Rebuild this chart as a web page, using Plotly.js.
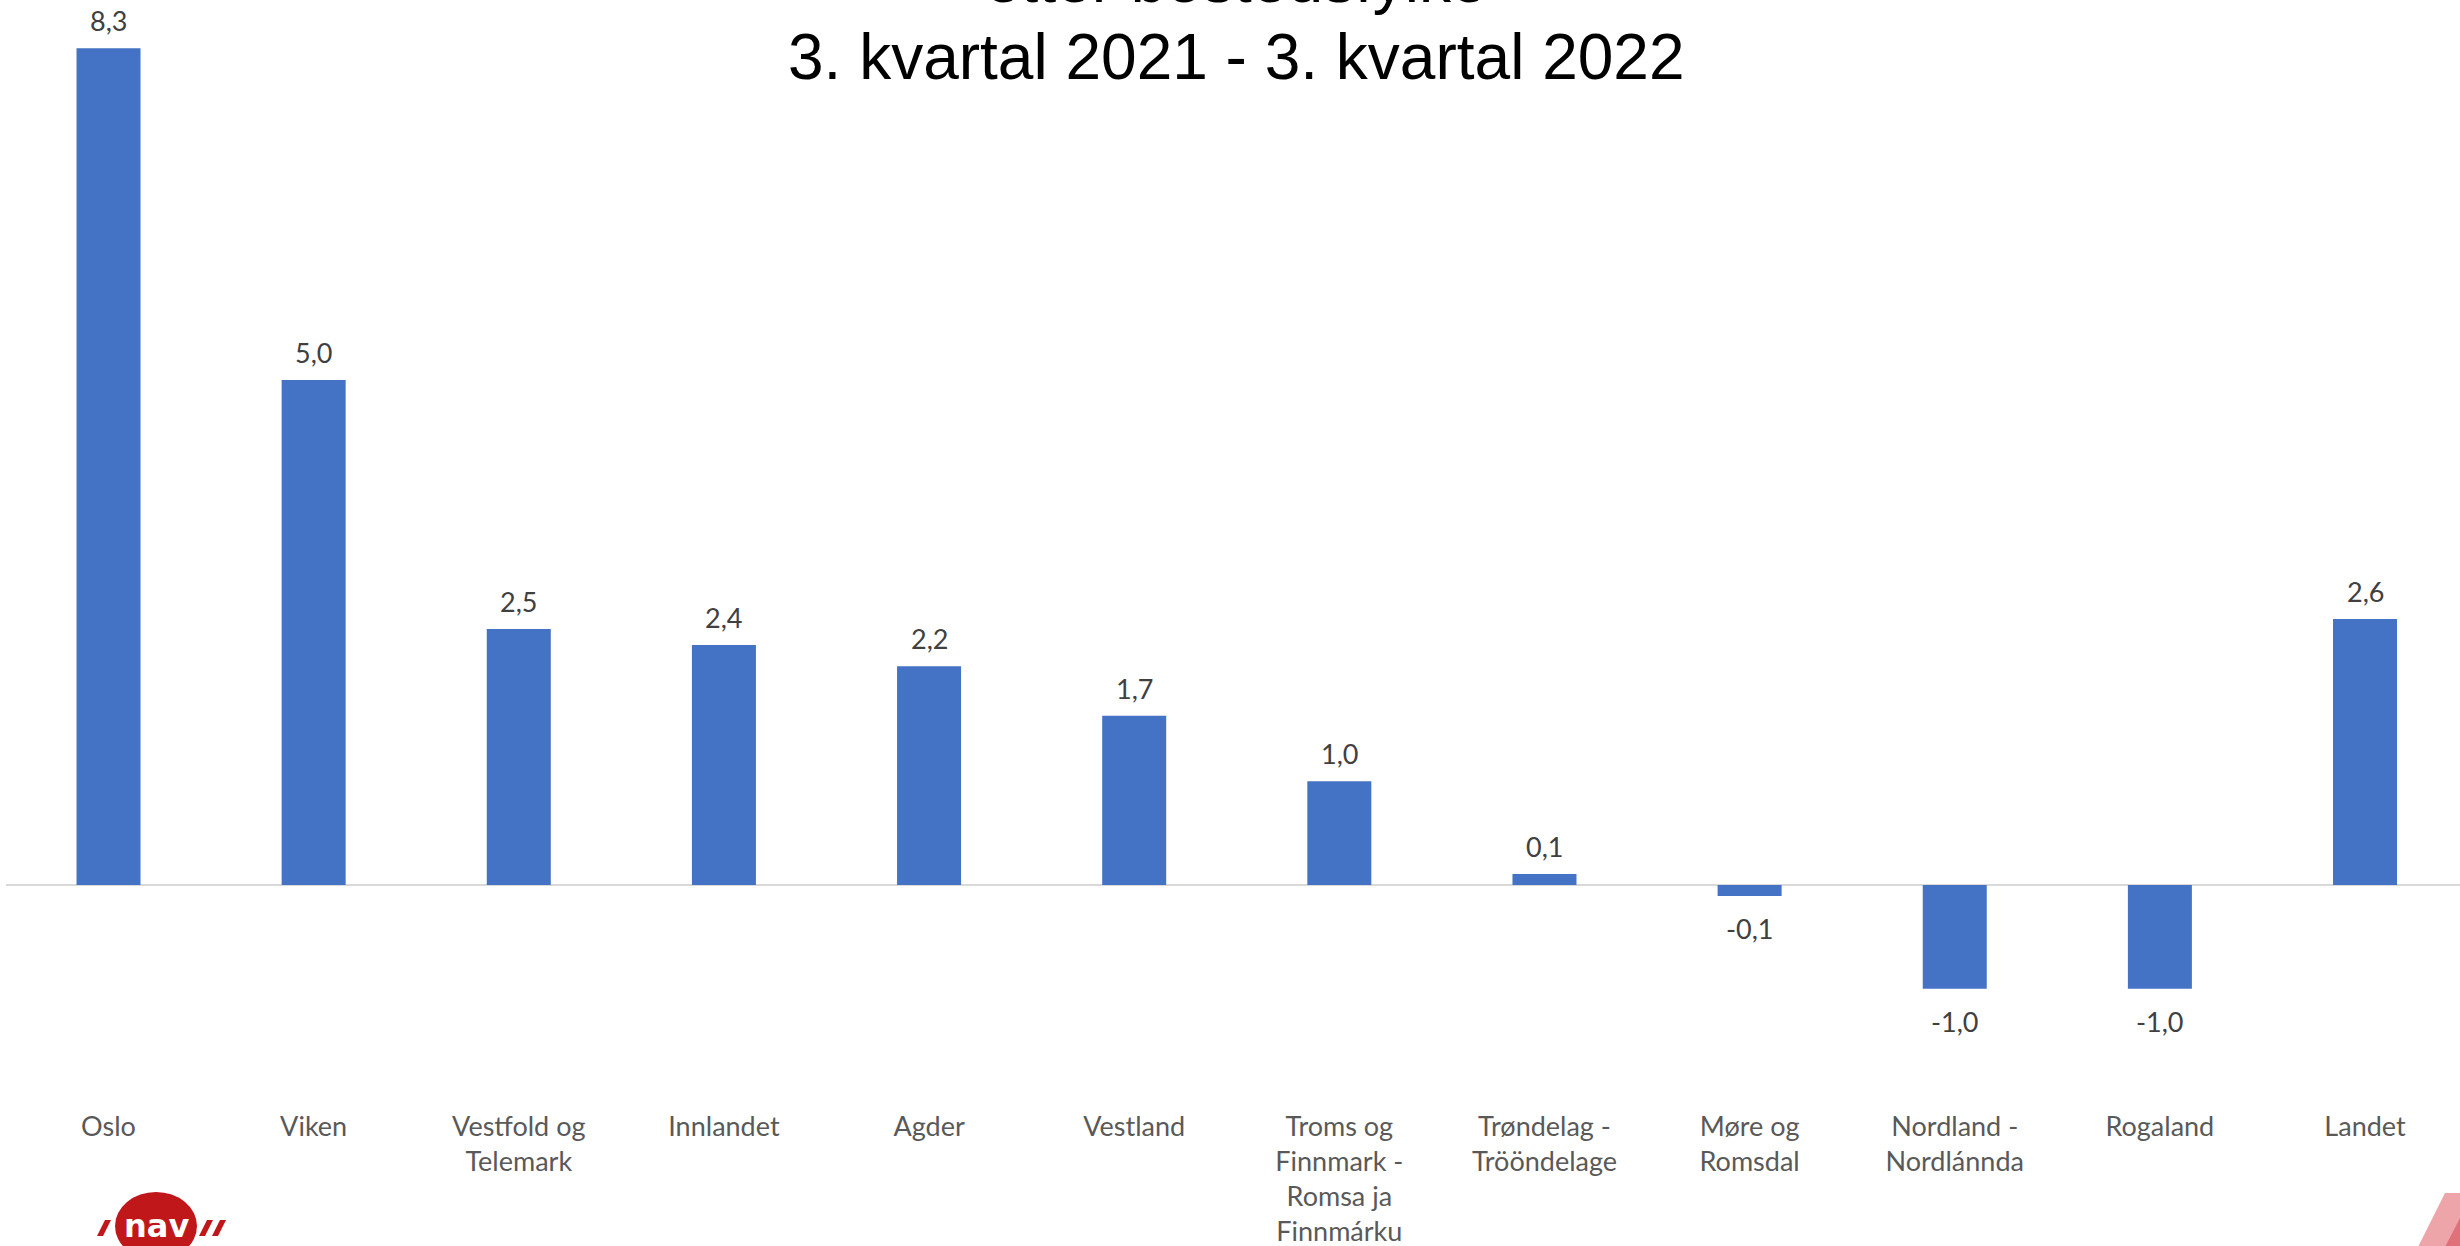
<!DOCTYPE html>
<html>
<head>
<meta charset="utf-8">
<script src="https://cdn.plot.ly/plotly-3.0.1.min.js"></script>
<style>html,body{margin:0;padding:0;background:#fff;}#chart{width:2460px;height:1246px;}</style>
</head>
<body>
<div id="chart"></div>
<script>
// ---- data ----
const regions = ["Oslo", "Viken", "Vestfold og<br>Telemark", "Innlandet", "Agder", "Vestland",
  "Troms og<br>Finnmark -<br>Romsa ja<br>Finnmárku", "Trøndelag -<br>Trööndelage", "Møre og<br>Romsdal",
  "Nordland -<br>Nordlánnda", "Rogaland", "Landet"];
const changePct = [8.3, 5.01, 2.54, 2.38, 2.17, 1.68, 1.03, 0.11, -0.11, -1.03, -1.03, 2.64];
const titleLines = ["etter bostedsfylke", "3. kvartal 2021 - 3. kvartal 2022"];

// ---- layout helpers (decoration only) ----
const W = 2460, H = 1246, ML = 6, MT = 0, PLOT_H = 1108;
const ZERO_Y = 885, PX_PER_UNIT = 100.8;
const px = x => (x - ML) / (W - ML);
const py = y => 1 - (y - MT) / PLOT_H;

const labelFont = {family: "Lato, 'Open Sans', sans-serif", size: 27, color: "#404040"};
const fmt = v => v.toFixed(1).replace(".", ",");

const valueAnnotations = regions.map((r, i) => {
  const v = changePct[i];
  return {
    x: r, y: v, xref: "x", yref: "y", text: fmt(v), showarrow: false,
    yanchor: v >= 0 ? "bottom" : "top", yshift: v >= 0 ? 9 : -14,
    font: labelFont
  };
});

const titleFont = {family: "'Liberation Sans', Arial, sans-serif", size: 64, color: "#000"};
const titleAnnotations = [
  {text: titleLines[0], x: px(1236), y: py(-20), xref: "paper", yref: "paper", showarrow: false,
   xanchor: "center", yanchor: "middle", font: titleFont},
  {text: titleLines[1], x: px(1236), y: py(57), xref: "paper", yref: "paper", showarrow: false,
   xanchor: "center", yanchor: "middle", font: titleFont}
];

const logoAnnotations = [
  {text: "<b>nav</b>", x: px(156), y: py(1226), xref: "paper", yref: "paper", showarrow: false,
   xanchor: "center", yanchor: "middle", font: {family: "'DejaVu Sans', sans-serif", size: 32, color: "#ffffff"}}
];

const slash = (x) => ({
  type: "path", xref: "paper", yref: "paper",
  path: `M ${px(x)} ${py(1236)} L ${px(x + 6)} ${py(1236)} L ${px(x + 14)} ${py(1220)} L ${px(x + 8)} ${py(1220)} Z`,
  fillcolor: "#C0171A", line: {width: 0}, layer: "above"
});

const shapes = [
  {type: "circle", xref: "paper", yref: "paper", x0: px(115), x1: px(197), y0: py(1192), y1: py(1260),
   fillcolor: "#C0171A", line: {width: 0}, layer: "above"},
  slash(97), slash(199), slash(212),
  {type: "path", xref: "paper", yref: "paper",
   path: `M ${px(2418)} ${py(1247)} L ${px(2445)} ${py(1193)} L ${px(2461)} ${py(1193)} L ${px(2461)} ${py(1247)} Z`,
   fillcolor: "#EDA5AA", line: {width: 0}, layer: "above"},
  {type: "path", xref: "paper", yref: "paper",
   path: `M ${px(2445)} ${py(1247)} L ${px(2461)} ${py(1216)} L ${px(2461)} ${py(1247)} Z`,
   fillcolor: "#E0717B", line: {width: 0}, layer: "above"}
];

const trace = {
  type: "bar", x: regions, y: changePct,
  marker: {color: "#4472C4", line: {width: 0}},
  hoverinfo: "x+y", cliponaxis: false
};

const layout = {
  width: W, height: H,
  margin: {l: ML, r: 0, t: MT, b: H - PLOT_H - MT, pad: 0},
  paper_bgcolor: "#ffffff", plot_bgcolor: "#ffffff",
  showlegend: false, bargap: 0.688,
  separators: ", ",
  xaxis: {type: "category", range: [-0.4997, 11.463], showgrid: false, showline: false, ticks: "",
          tickfont: {family: "Lato, 'Open Sans', sans-serif", size: 27, color: "#595959"}, fixedrange: true},
  yaxis: {range: [-(PLOT_H - ZERO_Y) / PX_PER_UNIT, ZERO_Y / PX_PER_UNIT], showgrid: false, showticklabels: false, ticks: "",
          zeroline: true, zerolinecolor: "#D9D9D9", zerolinewidth: 2, fixedrange: true},
  annotations: valueAnnotations.concat(titleAnnotations, logoAnnotations),
  shapes: shapes
};

Plotly.newPlot("chart", [trace], layout, {displayModeBar: false, staticPlot: true});
</script>
</body>
</html>
